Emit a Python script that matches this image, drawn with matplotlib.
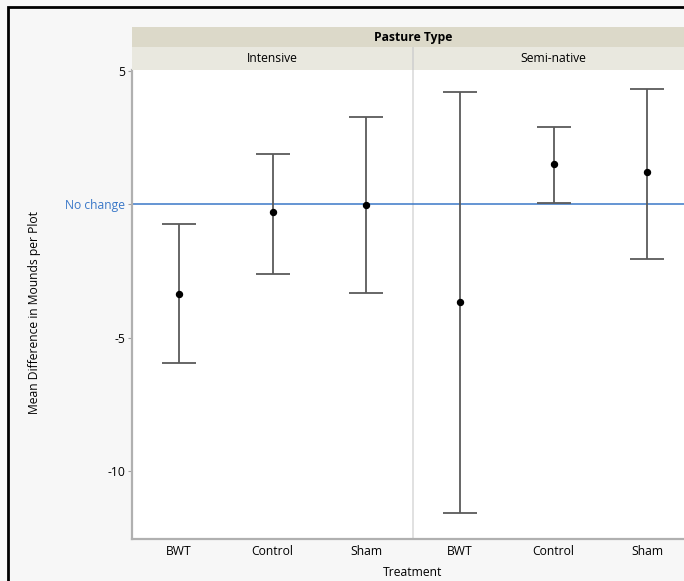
import matplotlib
matplotlib.use("Agg")
import matplotlib.pyplot as plt
from matplotlib.patches import Rectangle
import numpy as np

plt.rcParams['font.family'] = ['Open Sans', 'DejaVu Sans']

# Data: mean difference with interval bounds, per pasture type and treatment
pastures = ["Intensive", "Semi-native"]
treatments = ["BWT", "Control", "Sham"]
intensive_mean = [-3.36, -0.30, -0.04]
intensive_low = [-5.97, -2.61, -3.32]
intensive_high = [-0.75, 1.90, 3.28]
seminative_mean = [-3.66, 1.49, 1.19]
seminative_low = [-11.57, 0.04, -2.05]
seminative_high = [4.22, 2.91, 4.33]
y_ticks = [5, 0, -5, -10]

W, H = 684, 581
fig = plt.figure(figsize=(W / 100, H / 100), dpi=100, facecolor="#f7f7f7")

def fx(px):
    return px / W

def fy(py):
    return 1 - py / H

FS = 8.7

# plot area in pixel terms
left, right, top, bottom = 132, 694, 70, 539
ax = fig.add_axes([fx(left), fy(bottom), fx(right - left), (bottom - top) / H])
ax.set_facecolor("white")

means = intensive_mean + seminative_mean
lows = intensive_low + seminative_low
highs = intensive_high + seminative_high
x = np.arange(len(means))
means = np.array(means)
yerr = np.vstack([means - np.array(lows), np.array(highs) - means])

ax.axhline(0, color="#3a78c8", lw=1.1, zorder=1)
ax.axvline(2.5, color="#dcdcdc", lw=1.2, zorder=0)
ax.errorbar(x, means, yerr=yerr, fmt="o", color="black", ms=4.3,
            ecolor="#5a5a5a", elinewidth=1.3, capsize=12, capthick=1.3, zorder=3)

ax.set_xlim(-0.5, 5.5)
ax.set_ylim(-12.55, 5.03)
ax.set_yticks(y_ticks)
ax.set_yticklabels([str(t) if t != 0 else "No change" for t in y_ticks])
for lbl, t in zip(ax.get_yticklabels(), y_ticks):
    if t == 0:
        lbl.set_color("#3a78c8")
ax.set_xticks(x)
ax.set_xticklabels(treatments * 2)
ax.tick_params(axis="y", length=3, width=0.8, color="#a0a0a0", labelsize=FS, pad=2)
ax.tick_params(axis="x", length=0, labelsize=FS, pad=4)
for s in ["top", "right"]:
    ax.spines[s].set_visible(False)
for s in ["left", "bottom"]:
    ax.spines[s].set_color("#b0b0b0")
    ax.spines[s].set_linewidth(1.6)

ax.set_xlabel("Treatment", fontsize=FS, labelpad=6)
fig.text(fx(35), fy(312), "Mean Difference in Mounds per Plot",
         rotation=90, ha="center", va="center", fontsize=FS)

# header bands
hdr = fig.add_axes([fx(left), fy(47), fx(right - left), 20 / H])
hdr.set_facecolor("#dcd9c9")
hdr.set_xticks([]); hdr.set_yticks([])
for s in hdr.spines.values():
    s.set_visible(False)
hdr.text(0.5, 0.5, "Pasture Type", ha="center", va="center", fontsize=FS,
         fontweight="bold", transform=hdr.transAxes)

sub = fig.add_axes([fx(left), fy(top), fx(right - left), (top - 47) / H])
sub.set_facecolor("#e9e8df")
sub.set_xlim(-0.5, 5.5); sub.set_ylim(0, 1)
sub.set_xticks([]); sub.set_yticks([])
for s in sub.spines.values():
    s.set_visible(False)
sub.axvline(2.5, color="#d0d0d0", lw=1.2)
for i, p in enumerate(pastures):
    sub.text(1 + 3 * i, 0.5, p, ha="center", va="center", fontsize=FS)

# outer frame
fig.patches.append(Rectangle((fx(8), fy(H + 20)), fx(W + 20), (H + 20 - 7) / H,
                             transform=fig.transFigure, fill=False,
                             edgecolor="black", lw=2))

fig.savefig("out.png", dpi=100, facecolor=fig.get_facecolor())
